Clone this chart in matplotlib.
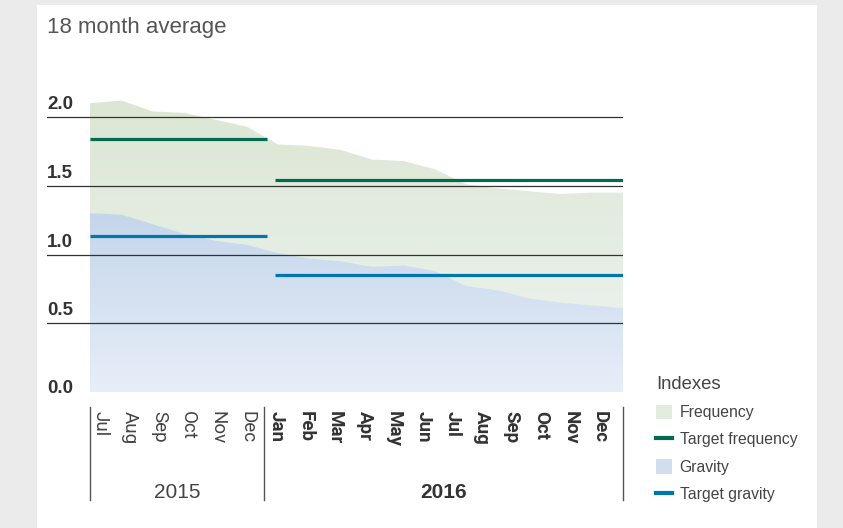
import numpy as np
import matplotlib.pyplot as plt
from matplotlib.colors import LinearSegmentedColormap
from matplotlib.patches import Patch, Rectangle
from matplotlib.lines import Line2D

months = ["Jul", "Aug", "Sep", "Oct", "Nov", "Dec",
          "Jan", "Feb", "Mar", "Apr", "May", "Jun",
          "Jul", "Aug", "Sep", "Oct", "Nov", "Dec"]
years = ["2015", "2016"]
months_per_year = [6, 12]

frequency = [2.10, 2.12, 2.04, 2.03, 1.98, 1.93, 1.80, 1.79, 1.76,
             1.69, 1.68, 1.62, 1.51, 1.48, 1.46, 1.44, 1.45, 1.45]
gravity = [1.30, 1.29, 1.22, 1.15, 1.10, 1.07, 1.01, 0.97, 0.95,
           0.91, 0.92, 0.88, 0.77, 0.74, 0.68, 0.65, 0.63, 0.61]
target_frequency = [1.84, 1.54]
target_gravity = [1.135, 0.85]

yticks = [0.0, 0.5, 1.0, 1.5, 2.0]

plt.rcParams['font.family'] = ['Liberation Sans', 'DejaVu Sans']

fig = plt.figure(figsize=(8.43, 5.28), dpi=100, facecolor="#ebebeb")
fig.patches.append(Rectangle((37 / 843, 0), 780 / 843, 1 - 5 / 528,
                             transform=fig.transFigure, facecolor="white",
                             edgecolor="none", zorder=-10))

ax = fig.add_axes([47 / 843, 1 - 392 / 528, 576 / 843, 297 / 528])
ax.set_facecolor("none")

# month slots: label i sits at x=i, area spans a bit wider
x_start, x_end = -0.34, 17.79
x_area = np.linspace(x_start, x_end, len(frequency))
x_split = 5.58


def gradient_area(xs, ys, c_bottom, c_top, z):
    poly = ax.fill_between(xs, 0, ys, color="none", lw=0, zorder=z)
    cmap = LinearSegmentedColormap.from_list("g", [c_bottom, c_top])
    top = max(ys)
    grad = np.linspace(0, 1, 256).reshape(-1, 1)
    im = ax.imshow(grad, extent=[xs[0], xs[-1], 0, top], origin="lower",
                   aspect="auto", cmap=cmap, zorder=z)
    im.set_clip_path(poly.get_paths()[0], transform=ax.transData)


gradient_area(x_area, frequency, "#eef5f4", "#dce6d2", 1)
gradient_area(x_area, gravity, "#e7eef8", "#c4d6eb", 2)

for yv in yticks[1:]:
    ax.axhline(yv, color="#333333", lw=0.9, zorder=3)

for yv in yticks:
    off = 0.058 if yv > 0 else -0.005
    ax.text(-1.80, yv + off, f"{yv:.1f}", ha="left", va="baseline",
            fontsize=13.5, fontweight="bold", color="#333333")

# targets per year
spans = [(x_start, 5.68), (5.95, x_end)]
for (a, b), tf, tg in zip(spans, target_frequency, target_gravity):
    ax.plot([a, b], [tf, tf], color="#006b4f", lw=2.3, zorder=4,
            solid_capstyle="butt")
    ax.plot([a, b], [tg, tg], color="#0077aa", lw=2.3, zorder=4,
            solid_capstyle="butt")

ax.set_xlim(-1.803, 17.789)
ax.set_ylim(0, 2.16)
for s in ax.spines.values():
    s.set_visible(False)
ax.set_yticks([])
ax.set_xticks(range(len(months)))
ax.set_xticklabels(months, rotation=-90, fontsize=13.5, color="#333333",
                   family="Roboto")
ax.tick_params(axis="x", length=0, pad=13.5)
for i, lab in enumerate(ax.get_xticklabels()):
    if i >= months_per_year[0]:
        lab.set_fontweight("bold")
    else:
        lab.set_color("#444444")

# year brackets
xt = ax.get_xaxis_transform()
for xv in [x_start, x_split, x_end]:
    ax.plot([xv, xv], [-0.0505, -0.3636], transform=xt, color="#555555",
            lw=1.0, clip_on=False)
ax.text((x_start + x_split) / 2, -0.338, years[0], transform=xt,
        ha="center", va="center", fontsize=15, color="#444444")
ax.text((x_split + x_end) / 2, -0.338, years[1], transform=xt,
        ha="center", va="center", fontsize=15, fontweight="bold",
        color="#333333")

fig.text(47 / 843, 1 - 27 / 528, "18 month average", ha="left",
         va="center", fontsize=16, color="#555555")

handles = [Patch(facecolor="#e3ecdf", edgecolor="none"),
           Line2D([], [], color="#006b4f", lw=3),
           Patch(facecolor="#d0deef", edgecolor="none"),
           Line2D([], [], color="#0077aa", lw=3)]
labels = ["Frequency", "Target frequency", "Gravity", "Target gravity"]
leg = fig.legend(handles, labels, title="Indexes", loc="upper left",
                 bbox_to_anchor=(656 / 843, 1 - 376 / 528), frameon=False,
                 fontsize=11.3, title_fontsize=13.3, alignment="left",
                 handlelength=1.05, handleheight=1.05, handletextpad=0.45,
                 labelspacing=0.74, borderpad=0, borderaxespad=0)
for t in leg.get_texts():
    t.set_color("#444444")
leg.get_title().set_color("#444444")

fig.savefig("out.png", dpi=100, facecolor=fig.get_facecolor())
